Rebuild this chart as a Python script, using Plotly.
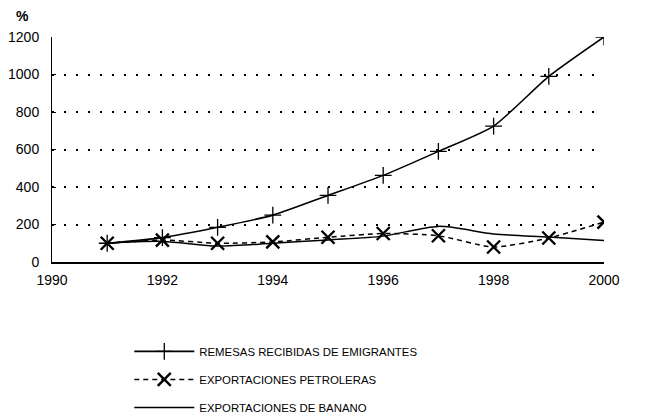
import plotly.graph_objects as go

years = [1991, 1992, 1993, 1994, 1995, 1996, 1997, 1998, 1999, 2000]
remesas = [100, 130, 185, 250, 355, 462, 590, 725, 990, 1200]
petroleras = [100, 117, 100, 107, 132, 152, 140, 80, 128, 213]
banano = [100, 110, 85, 100, 118, 138, 190, 150, 133, 115]

names = ["REMESAS RECIBIDAS DE EMIGRANTES", "EXPORTACIONES PETROLERAS", "EXPORTACIONES DE BANANO"]
x_ticks = [1990, 1992, 1994, 1996, 1998, 2000]
y_ticks = [0, 200, 400, 600, 800, 1000, 1200]

fig = go.Figure()
fig.add_trace(go.Scatter(x=years, y=remesas, name=names[0], mode="lines+markers",
                         line=dict(color="black", width=1.6, shape="spline", smoothing=0.6),
                         marker=dict(symbol="cross-thin", size=12, line=dict(color="black", width=1.3)),
                         legendgroup="a"))
fig.add_trace(go.Scatter(x=years, y=petroleras, name=names[1], mode="lines+markers",
                         line=dict(color="black", width=1.5, dash="5px,4px", shape="spline", smoothing=0.6),
                         marker=dict(symbol="x-thin", size=13, line=dict(color="black", width=2.4)),
                         legendgroup="b"))
fig.add_trace(go.Scatter(x=years, y=banano, name=names[2], mode="lines",
                         line=dict(color="black", width=1.5, shape="spline", smoothing=0.8),
                         legendgroup="c"))

fig.update_layout(
    width=651, height=406,
    margin=dict(l=44, r=55, t=29, b=152, autoexpand=False),
    paper_bgcolor="white", plot_bgcolor="white",
    font=dict(family="Liberation Sans, Arial, sans-serif", size=14, color="black"),
    showlegend=True,
    legend=dict(x=0.14, y=-0.333, xanchor="left", yanchor="top", tracegroupgap=9,
                font=dict(size=11.4), itemwidth=60, bgcolor="rgba(0,0,0,0)"),
    xaxis=dict(range=[1990, 2000], tickvals=x_ticks, showgrid=False, showline=True,
               linecolor="black", linewidth=1.5, ticks="", zeroline=False, fixedrange=True,
               ticklabelstandoff=4),
    yaxis=dict(range=[0, 1200], tickvals=y_ticks, showgrid=True, gridcolor="black",
               griddash="2px,10px", gridwidth=1.5, showline=True, linecolor="black", linewidth=1,
               ticks="inside", ticklen=4, tickcolor="black", zeroline=False, fixedrange=True,
               ticklabelstandoff=9),
    annotations=[dict(text="<b>%</b>", x=0, xref="paper", y=1, yref="paper",
                      xshift=-38, yshift=31, showarrow=False, font=dict(size=14))],
)

fig.write_html("out.html")
